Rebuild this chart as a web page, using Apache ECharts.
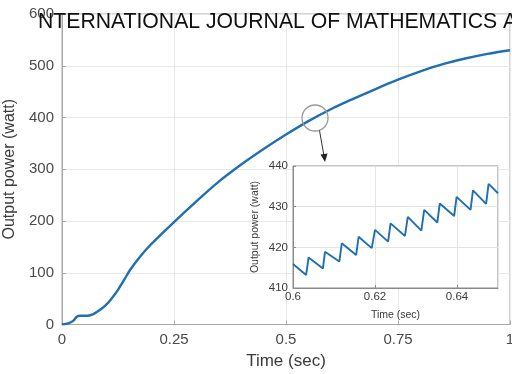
<!DOCTYPE html>
<html>
<head>
<meta charset="utf-8">
<script src="https://cdn.jsdelivr.net/npm/echarts@6/dist/echarts.min.js"></script>
<style>html,body{margin:0;padding:0;background:#fff}#c{width:512px;height:374px}</style>
</head>
<body>
<div id="c"></div>
<script>
// Main curve: time (s) and output power (W)
const mainTime  = [0, 0.014, 0.025, 0.033, 0.04, 0.058, 0.07, 0.081, 0.092, 0.103, 0.115, 0.125, 0.14, 0.15, 0.175, 0.2, 0.25, 0.3, 0.35, 0.4, 0.45, 0.5, 0.55, 0.6, 0.65, 0.7, 0.75, 0.8, 0.85, 0.9, 0.95, 1.0];
const mainPower = [0, 2, 7, 15, 17, 17, 20, 26, 33, 42, 55, 67, 88, 103, 132, 156, 198, 238, 276, 309, 339, 367, 393, 416, 436, 455, 473, 489, 503, 514, 523, 530];
// Inset (zoom 0.6–0.65 s)
const insetTime  = [0.6, 0.6032, 0.6038, 0.6073, 0.6078, 0.6113, 0.6119, 0.6154, 0.616, 0.6192, 0.62, 0.6232, 0.6238, 0.6273, 0.628, 0.6313, 0.632, 0.6352, 0.6358, 0.6393, 0.6399, 0.6433, 0.6439, 0.6471, 0.6477, 0.65];
const insetPower = [415.9, 413.2, 417.5, 414.8, 418.9, 416.5, 421.0, 418.1, 422.6, 419.8, 424.3, 421.4, 425.9, 422.8, 427.5, 424.1, 429.2, 426.1, 430.8, 427.7, 432.4, 429.2, 434.0, 430.7, 435.6, 433.3];
const headerText = 'NTERNATIONAL JOURNAL OF MATHEMATICS A';
const xName = 'Time (sec)';
const yName = 'Output power (watt)';

const mainData = mainTime.map((t, i) => [t, mainPower[i]]);
const insetData = insetTime.map((t, i) => [t, insetPower[i]]);
const FONT = 'Liberation Sans, Arial, sans-serif';
const fmt = v => String(+v.toFixed(3));

const chart = echarts.init(document.getElementById('c'), null, {renderer: 'canvas'});
chart.setOption({
  animation: false,
  backgroundColor: '#fff',
  grid: [
    {left: 62, right: 2, top: 14, bottom: 49.5, show: true, borderColor: '#a8a8a8', borderWidth: 1, backgroundColor: 'transparent', z: 0, containLabel: false, outerBoundsMode: 'none'},
    {left: 293, right: 14, top: 166, bottom: 86, show: true, borderColor: '#8a8a8a', borderWidth: 1, backgroundColor: '#fff', z: 2, containLabel: false, outerBoundsMode: 'none'}
  ],
  xAxis: [
    {gridIndex: 0, type: 'value', min: 0, max: 1, interval: 0.25,
     name: xName, nameLocation: 'middle', nameGap: 22,
     nameTextStyle: {fontSize: 17, color: '#3a3a3a', fontFamily: FONT},
     axisLine: {lineStyle: {color: '#a8a8a8'}},
     axisTick: {inside: true, length: 4, lineStyle: {color: '#a8a8a8'}},
     axisLabel: {fontSize: 15, color: '#4a4a4a', fontFamily: FONT, margin: 8, formatter: fmt},
     splitLine: {show: true, lineStyle: {color: '#e8e8e8'}}},
    {gridIndex: 1, type: 'value', min: 0.6, max: 0.65, interval: 0.02, z: 3,
     name: xName, nameLocation: 'middle', nameGap: 22,
     nameTextStyle: {fontSize: 10.5, color: '#3a3a3a', fontFamily: FONT},
     axisLine: {lineStyle: {color: '#8a8a8a'}},
     axisTick: {inside: true, length: 3, lineStyle: {color: '#8a8a8a'}},
     axisLabel: {fontSize: 11.5, color: '#3a3a3a', fontFamily: FONT, margin: 3, showMaxLabel: false, formatter: fmt},
     splitLine: {show: true, lineStyle: {color: '#e4e4e4'}}}
  ],
  yAxis: [
    {gridIndex: 0, type: 'value', min: 0, max: 600, interval: 100,
     name: yName, nameLocation: 'middle', nameGap: 35,
     nameTextStyle: {fontSize: 16, color: '#3a3a3a', fontFamily: FONT},
     axisLine: {show: true, lineStyle: {color: '#a8a8a8'}},
     axisTick: {show: true, inside: true, length: 4, lineStyle: {color: '#a8a8a8'}},
     axisLabel: {fontSize: 15, color: '#4a4a4a', fontFamily: FONT, margin: 8},
     splitLine: {show: true, lineStyle: {color: '#e8e8e8'}}},
    {gridIndex: 1, type: 'value', min: 410, max: 440, interval: 10, z: 3,
     name: yName, nameLocation: 'middle', nameGap: 32,
     nameTextStyle: {fontSize: 10.5, color: '#3a3a3a', fontFamily: FONT},
     axisLine: {show: true, lineStyle: {color: '#8a8a8a'}},
     axisTick: {show: true, inside: true, length: 3, lineStyle: {color: '#8a8a8a'}},
     axisLabel: {fontSize: 11.5, color: '#3a3a3a', fontFamily: FONT, margin: 5},
     splitLine: {show: true, lineStyle: {color: '#e4e4e4'}}}
  ],
  series: [
    {type: 'line', xAxisIndex: 0, yAxisIndex: 0, data: mainData, showSymbol: false, smooth: 0.3,
     lineStyle: {color: '#1f6fb2', width: 2.4}, z: 2},
    {type: 'line', xAxisIndex: 1, yAxisIndex: 1, data: insetData, showSymbol: false,
     lineStyle: {color: '#1f6fb2', width: 1.9}, z: 4}
  ],
  graphic: [
    {type: 'text', left: 38, top: 12, z: 100,
     style: {text: headerText, fontSize: 21.2, fontFamily: FONT, fill: '#111'}},
    {type: 'circle', shape: {cx: 315, cy: 118, r: 13}, z: 50,
     style: {fill: 'none', stroke: '#9a9a9a', lineWidth: 1.3}},
    {type: 'line', shape: {x1: 319.5, y1: 130.5, x2: 324, y2: 156}, z: 50,
     style: {stroke: '#333', lineWidth: 1}},
    {type: 'polygon', shape: {points: [[320.5, 154.5], [327.5, 153.5], [325, 162]]}, z: 50,
     style: {fill: '#222'}}
  ]
});
</script>
</body>
</html>
